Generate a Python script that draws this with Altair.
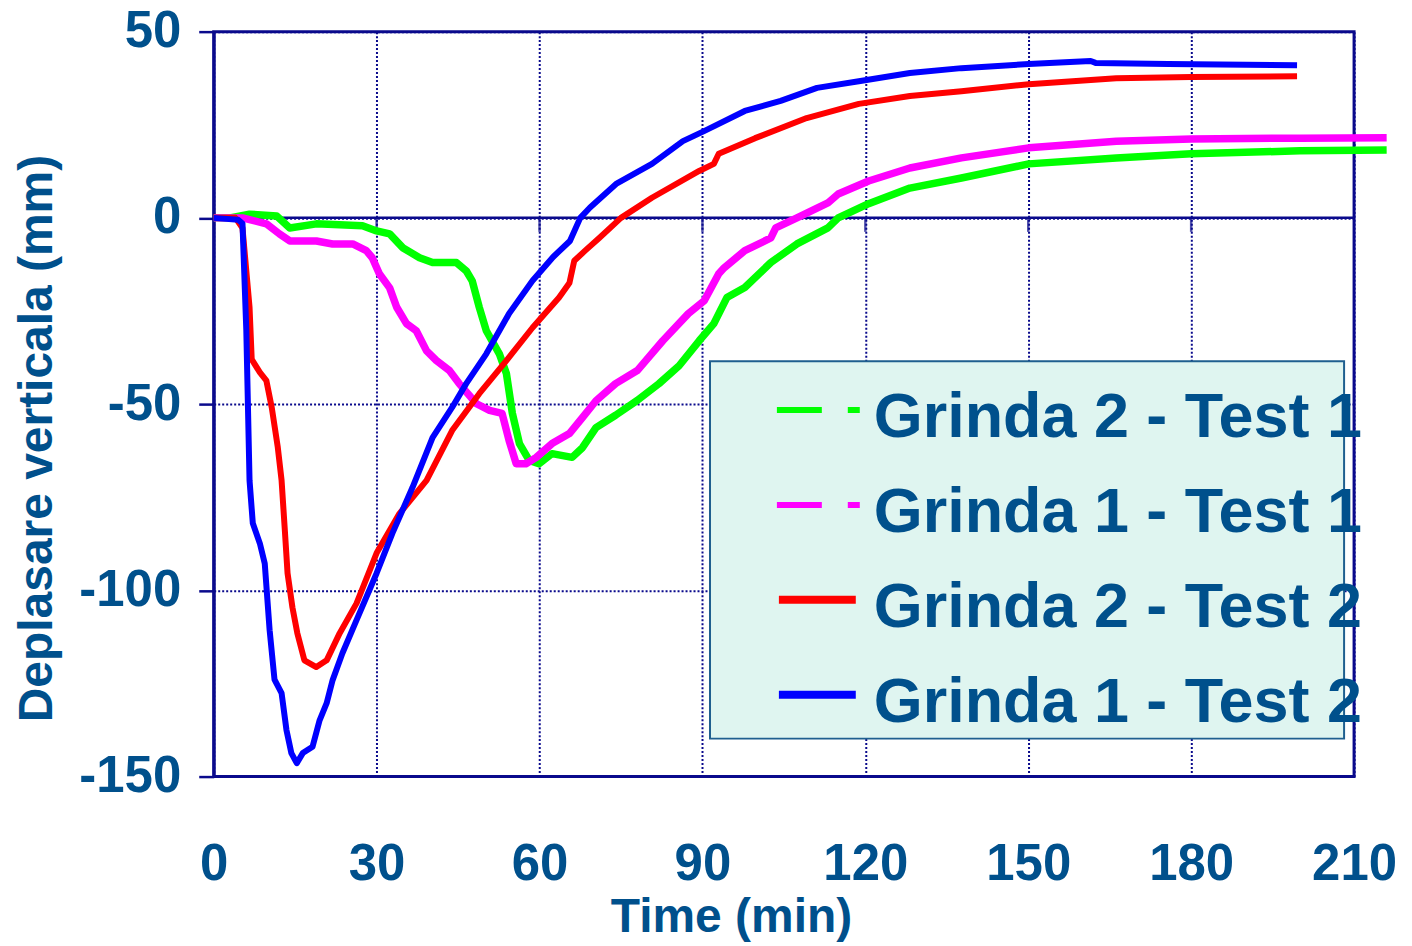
import altair as alt
import pandas as pd

# ---------------- data ----------------
SERIES = ["Grinda 2 - Test 1", "Grinda 1 - Test 1", "Grinda 2 - Test 2", "Grinda 1 - Test 2"]
COLORS = ["#00FF00", "#FF00FF", "#FF0000", "#0000FF"]

g2t1_t = [0, 3, 6.6, 11.6, 14.0, 18.9, 27.4, 30.0, 32.4, 34.8, 37.9, 40.3, 44.7, 46.5, 47.6,
          48.9, 50.2, 52.6, 53.9, 55.0, 56.3, 58.1, 59.9, 62.3, 66.0, 67.9, 70.4, 74, 78, 82,
          85.7, 89.4, 92.1, 94.5, 97.8, 102.6, 107.4, 113.1, 115, 120.6, 128.2, 137.7, 150.1,
          166.2, 180, 200, 216]
g2t1_v = [0, 0, 1, 0.5, -2.7, -1.6, -2.1, -3.5, -4.3, -8, -10.7, -12, -12, -14.2, -16.9,
          -24, -30.3, -36.5, -41.8, -52.5, -60.6, -65.1, -66, -63.3, -64.3, -61.7, -56.3, -53, -49, -44.5,
          -39.7, -33, -28.4, -21.4, -18.7, -12, -7, -2.7, 0, 3.8, 8.0, 10.7, 14.5,
          16.1, 17.2, 18.0, 18.2]

g1t1_t = [0, 5.3, 9.7, 12.1, 14.0, 18.9, 21.9, 25.6, 28.1, 29.2, 30.5, 32.4, 33.7, 35.5, 37.3,
          39.2, 41.0, 43.4, 45.2, 48.4, 50.8, 53.1, 54.4, 55.7, 57.5, 59.4, 62.3, 65.5, 67.9, 70.4,
          74, 78, 82.7, 87.4, 90.3, 93, 94, 97.8, 102.6, 103.5, 107.4, 113.1, 115, 120.6, 128.2,
          137.7, 150.1, 166.2, 180, 200, 216]
g1t1_v = [0, 0, -1.6, -4.3, -6.2, -6.2, -7, -7, -8.8, -10.7, -15, -18.8, -24, -28.4, -30.3,
          -35.7, -38.3, -41, -44.5, -49.9, -51.7, -52.5, -59.8, -66, -66, -64.3, -60.6, -57.9, -53.6, -49.1,
          -44.5, -41, -33, -25.7, -22.3, -15, -13.4, -8.8, -5.4, -2.7, 0, 4, 6.4, 9.9, 13.4,
          16.1, 18.8, 20.6, 21.2, 21.4, 21.5]

g2t2_t = [0, 4, 5.3, 6.6, 7.0, 8.5, 9.7, 10.7, 11.8, 12.5, 13.1, 13.6, 14.5, 15.4, 16.7,
          18.9, 20.8, 23.2, 26.3, 30.0, 34.2, 39.2, 43.9, 48.9, 53.9, 58.7, 63.6, 65.5, 66.4, 68.4,
          71, 75.0, 80.7, 89.4, 92.1, 93.0, 99.7, 109.2, 118.8, 128.2, 137.7, 150.1, 166.2, 180, 199.5]
g2t2_v = [0, 0, -2.7, -24, -38, -41.5, -43.7, -51, -61.6, -70.5, -83.9, -95.4, -104.6, -111.5, -118.8,
          -120.6, -118.8, -111.5, -103.5, -90, -79.4, -70.5, -57.1, -47.2, -38.3, -29.5, -21.4, -17.5, -11.5, -8.8,
          -5.4, 0, 5.4, 12.6, 14.5, 17.2, 21.4, 26.8, 30.6, 32.7, 34, 35.9, 37.5, 37.8, 38]

g1t2_t = [0, 4.5, 5.3, 6.0, 6.6, 7.2, 8.5, 9.4, 10.3, 11.2, 12.5, 13.4, 14.3, 15.3, 16.4,
          18.2, 19.5, 20.8, 21.9, 23.7, 26.3, 30.0, 32.9, 36.6, 40.3, 43.9, 46.5, 50.2, 54.4, 58.7,
          62.5, 65.6, 67.5, 69.3, 74.1, 80.7, 86.4, 90.3, 97.8, 104.4, 111.1, 118.8, 128.2, 137.7, 150.1,
          161.5, 162.4, 175.8, 199.5]
g1t2_v = [0, -0.5, -1.5, -30, -70.5, -82, -87.4, -92.8, -110.7, -124, -127.6, -137.5, -143.7, -146.4, -143.7,
          -142, -134.9, -130.3, -124.1, -116.9, -108, -95.4, -84.7, -72.4, -59, -50.9, -44.5, -36.5, -25.7, -16.9,
          -10.5, -6.2, 0, 2.8, 9.1, 14.5, 20.6, 23.3, 28.7, 31.4, 34.9, 36.7, 38.9, 40.2, 41.3,
          42.1, 41.6, 41.3, 41]

x_ticks = [0, 30, 60, 90, 120, 150, 180, 210]
y_ticks = [-150, -100, -50, 0, 50]

# ---------------- styling ----------------
NAVY = "#0a0a8c"
TXT = "#00508C"
FONT = "Liberation Sans"

xs = alt.Scale(domain=[0, 210], nice=False, zero=False)
ys = alt.Scale(domain=[-150, 50], nice=False, zero=False)

x_axis = alt.Axis(values=x_ticks, title="Time (min)", grid=True, gridColor=NAVY, gridDash=[2, 2],
                  gridWidth=2, domain=False, ticks=False, labelPadding=63, labelFontSize=51,
                  labelFont=FONT, labelFontWeight="bold", labelColor=TXT, labelFlush=False,
                  labelOverlap=False, labelExpr="'' + datum.value",
                  titleFont=FONT, titleFontSize=48, titleFontWeight="bold",
                  titleColor=TXT, titleBaseline="alphabetic", titleY=155, titleX=518,
                  titleAlign="center")
y_axis = alt.Axis(values=y_ticks, title="Deplasare verticala (mm)", grid=True, gridColor=NAVY,
                  gridDash=[2, 2], gridWidth=2, domain=True, domainColor=NAVY, domainWidth=3,
                  ticks=True, tickColor=NAVY, tickSize=15, tickWidth=2.5, labelPadding=18,
                  labelFontSize=51, labelFont=FONT, labelFontWeight="bold", labelColor=TXT,
                  labelFlush=False, labelOverlap=False, labelExpr="'' + datum.value",
                  titleFont=FONT, titleFontSize=48,
                  titleFontWeight="bold", titleColor=TXT, titleAngle=270, titleX=-162, titleY=407,
                  titleBaseline="alphabetic", titleAlign="center")


def X():
    return alt.X("t:Q", scale=xs, axis=x_axis)


def Y():
    return alt.Y("v:Q", scale=ys, axis=y_axis)


one = pd.DataFrame({"k": [0]})

# zero line (solid) and its tick marks
zero_line = alt.Chart(pd.DataFrame({"v": [0]})).mark_rule(color=NAVY, strokeWidth=2.5).encode(
    y=Y(),
)
zero_ticks = alt.Chart(pd.DataFrame({"t": x_ticks[1:-1], "v": [0] * (len(x_ticks) - 2)})).mark_tick(
    color=NAVY, size=14, thickness=2.5, orient="vertical", yOffset=7
).encode(x=X(), y=Y())

series_data = [(g2t1_t, g2t1_v), (g1t1_t, g1t1_v), (g2t2_t, g2t2_v), (g1t2_t, g1t2_v)]
widths = [7.5, 7.5, 6, 6]

line_layers = []
for (tt, vv), col, w in zip(series_data, COLORS, widths):
    df = pd.DataFrame({"t": tt, "v": vv})
    line_layers.append(
        alt.Chart(df).mark_line(color=col, strokeWidth=w, strokeJoin="round").encode(x=X(), y=Y())
    )

# legend box (manual, to match the original's layout)
legend_box = alt.Chart(one).mark_rect(fill="#DFF5F0", stroke="#1F5F8F", strokeWidth=2).encode(
    x=alt.value(497), x2=alt.value(1132), y=alt.value(330), y2=alt.value(708)
)
legend_layers = [legend_box]
for i, (name, col) in enumerate(zip(SERIES, COLORS)):
    dashed = i < 2
    sym_kwargs = dict(color=col, strokeWidth=6 if dashed else 8)
    if dashed:
        sym_kwargs["strokeDash"] = [45, 26]
    x1, x2 = (564, 647) if dashed else (566, 643)
    legend_layers.append(
        alt.Chart(one).mark_rule(**sym_kwargs).encode(
            x=alt.value(x1), x2=alt.value(x2), y=alt.value(379 + 95 * i)
        )
    )
    legend_layers.append(
        alt.Chart(one).mark_text(align="left", baseline="alphabetic", font=FONT,
                                 fontWeight="bold", fontSize=63, color=TXT).encode(
            x=alt.value(661), y=alt.value(406 + 95 * i), text=alt.value(name)
        )
    )

chart = alt.layer(zero_line, zero_ticks, *line_layers, *legend_layers).properties(
    width=1142, height=746,
    autosize=alt.AutoSizeParams(type="none"),
    padding={"left": 206, "top": 23, "right": 50, "bottom": 167},
    background="white",
).configure_view(stroke=NAVY, strokeWidth=3)

chart.save("out.html", embed_options={"renderer": "svg", "actions": False})
